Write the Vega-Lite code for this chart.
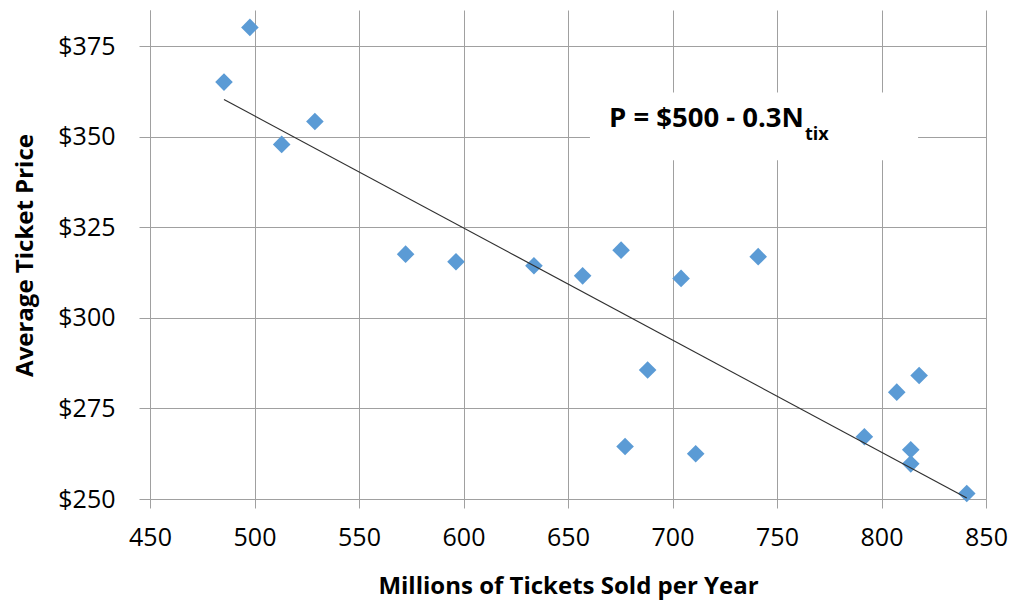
{
  "$schema": "https://vega.github.io/schema/vega-lite/v6.json",
  "width": 836,
  "height": 489,
  "autosize": {"type": "none"},
  "padding": {"left": 150, "top": 10, "right": 26, "bottom": 102},
  "background": "white",
  "config": {
    "view": {"stroke": null},
    "font": "Open Sans"
  },
  "datasets": {
    "points": [
      {"x": 485.4, "y": 365.1},
      {"x": 497.8, "y": 380.2},
      {"x": 513.0, "y": 347.9},
      {"x": 528.9, "y": 354.2},
      {"x": 572.3, "y": 317.6},
      {"x": 596.4, "y": 315.5},
      {"x": 633.7, "y": 314.4},
      {"x": 657.0, "y": 311.6},
      {"x": 675.4, "y": 318.7},
      {"x": 677.3, "y": 264.5},
      {"x": 688.1, "y": 285.6},
      {"x": 704.1, "y": 310.9},
      {"x": 711.1, "y": 262.5},
      {"x": 741.0, "y": 316.9},
      {"x": 791.8, "y": 267.2},
      {"x": 807.3, "y": 279.5},
      {"x": 818.0, "y": 284.1},
      {"x": 814.0, "y": 263.6},
      {"x": 814.0, "y": 259.7},
      {"x": 840.8, "y": 251.5}
    ],
    "trend": [
      {"x": 485.4, "y": 360.3},
      {"x": 840.8, "y": 250.3}
    ],
    "box": [
      {"x": 660.5, "x2": 817.5, "y": 343.5, "y2": 362.2}
    ],
    "label": [
      {"x": 669.6, "y": 352.7, "text": "P = $500 - 0.3N"}
    ],
    "sub": [
      {"x": 763.4, "y": 349.0, "text": "tix"}
    ]
  },
  "encoding": {
    "x": {
      "field": "x",
      "type": "quantitative",
      "scale": {"domain": [450, 850], "nice": false, "zero": false},
      "axis": {
        "values": [450, 500, 550, 600, 650, 700, 750, 800, 850],
        "title": "Millions of Tickets Sold per Year",
        "titleFont": "Open Sans",
        "titleFontWeight": "bold",
        "titleFontSize": 24,
        "titleColor": "#000000",
        "titleBaseline": "alphabetic",
        "titleY": 94.7,
        "titleX": 418,
        "titleAlign": "center",
        "labelFont": "Open Sans",
        "labelFontSize": 25,
        "labelColor": "#000000",
        "labelPadding": 17,
        "labelFlush": false,
        "labelOverlap": false,
        "tickSize": 9,
        "tickColor": "#A0A0A0",
        "domainColor": "#A0A0A0",
        "gridColor": "#A0A0A0",
        "grid": true,
        "gridWidth": 1,
        "tickWidth": 1,
        "domainWidth": 1
      }
    },
    "y": {
      "field": "y",
      "type": "quantitative",
      "scale": {"domain": [250, 385], "nice": false, "zero": false},
      "axis": {
        "values": [250, 275, 300, 325, 350, 375],
        "format": "$.0f",
        "title": "Average Ticket Price",
        "titleFont": "Open Sans",
        "titleFontWeight": "bold",
        "titleFontSize": 24,
        "titleColor": "#000000",
        "titleAngle": -90,
        "titleBaseline": "alphabetic",
        "titleAlign": "center",
        "titleX": -118,
        "titleY": 245,
        "labelFont": "Open Sans",
        "labelFontSize": 25,
        "labelColor": "#000000",
        "labelPadding": 24,
        "labelFlush": false,
        "labelOverlap": false,
        "tickSize": 11,
        "tickColor": "#A0A0A0",
        "domainColor": "#A0A0A0",
        "gridColor": "#A0A0A0",
        "grid": true,
        "gridWidth": 1,
        "tickWidth": 1,
        "domainWidth": 1
      }
    }
  },
  "layer": [
    {
      "data": {"name": "box"},
      "mark": {"type": "rect", "fill": "white", "stroke": null},
      "encoding": {
        "x2": {"field": "x2"},
        "y2": {"field": "y2"}
      }
    },
    {
      "data": {"name": "points"},
      "mark": {"type": "point", "shape": "diamond", "filled": true, "size": 310, "color": "#5B9BD5", "opacity": 1}
    },
    {
      "data": {"name": "trend"},
      "mark": {"type": "line", "color": "#303030", "strokeWidth": 1.2}
    },
    {
      "data": {"name": "label"},
      "mark": {"type": "text", "align": "left", "baseline": "alphabetic", "font": "Open Sans", "fontWeight": "bold", "fontSize": 27.5, "color": "#000000"},
      "encoding": {"text": {"field": "text"}}
    },
    {
      "data": {"name": "sub"},
      "mark": {"type": "text", "align": "left", "baseline": "alphabetic", "font": "Open Sans", "fontWeight": "bold", "fontSize": 18, "color": "#000000"},
      "encoding": {"text": {"field": "text"}}
    }
  ]
}
